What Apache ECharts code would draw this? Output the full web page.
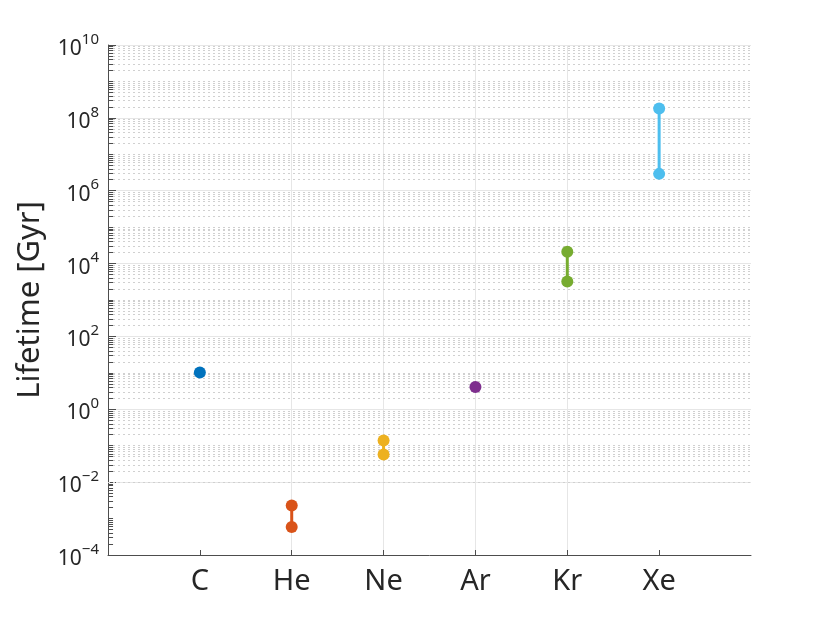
<!DOCTYPE html>
<html><head><meta charset="utf-8">
<script src="https://cdn.jsdelivr.net/npm/echarts@6/dist/echarts.min.js"></script>
<style>html,body{margin:0;padding:0;background:#fff}#c{width:830px;height:623px}</style>
</head><body><div id="c"></div>
<script>
const categories = ['C','He','Ne','Ar','Kr','Xe'];
const lowerValues = [10.3, 5.9e-4, 0.057, 4.1, 3.2e3, 2.9e6];
const upperValues = [null, 2.3e-3, 0.14, null, 2.1e4, 1.8e8];
const colors = ['#0072BD','#D95319','#EDB120','#7E2F8E','#77AC30','#4DBEEE'];
const yMin = 1e-4, yMax = 1e10;
const font = 'Noto Sans';

// minor grid positions (k * 10^n), plus odd decades (major ticks are every 2 decades)
const minorVals = [];
for (let n = -4; n < 10; n++) {
  if (n % 2 !== 0) minorVals.push(Math.pow(10, n));
  for (let k = 2; k <= 9; k++) minorVals.push(k * Math.pow(10, n));
}
const minorTickVals = [];
for (let n = -4; n < 10; n++) {
  for (let k = 1; k <= 9; k++) { if (!(k === 1 && n % 2 === 0)) minorTickVals.push(k * Math.pow(10, n)); }
}

const series = [];
series.push({
  type: 'scatter', data: [], z: 1, silent: true,
  markLine: {
    silent: true, symbol: ['none','none'], animation: false,
    label: {show: false},
    lineStyle: {type: [2,3], color: '#d0d0d0', width: 1},
    emphasis: {disabled: true},
    data: minorVals.map(v => ({yAxis: v}))
  }
});
series.push({
  type: 'scatter', data: [], z: 2, silent: true,
  markLine: {
    silent: true, symbol: ['none','none'], animation: false,
    label: {show: false},
    lineStyle: {type: 'solid', color: '#4d4d4d', width: 1},
    emphasis: {disabled: true},
    data: minorTickVals.map(v => [{coord: [0, v]}, {coord: [0.055, v]}])
  }
});
categories.forEach((c, i) => {
  const pts = [[i + 1, lowerValues[i]]];
  if (upperValues[i] != null) pts.push([i + 1, upperValues[i]]);
  series.push({
    name: c, type: 'line', data: pts, z: 5,
    symbol: 'circle', symbolSize: 12,
    lineStyle: {color: colors[i], width: 3},
    itemStyle: {color: colors[i]},
    animation: false
  });
});

const chart = echarts.init(document.getElementById('c'));
chart.setOption({
  animation: false,
  backgroundColor: '#fff',
  grid: {left: 108, right: 79, top: 45, bottom: 68, containLabel: false},
  xAxis: {
    type: 'value', min: 0, max: 7, interval: 1,
    axisLine: {show: true, lineStyle: {color: '#4d4d4d', width: 1}},
    axisTick: {show: true, inside: true, length: 5, lineStyle: {color: '#4d4d4d'},
      customValues: [1, 2, 3, 4, 5, 6]},
    axisLabel: {
      margin: 12, fontSize: 29, color: '#262626', fontFamily: font,
      formatter: v => categories[v - 1] || ''
    },
    splitLine: {show: true, showMinLine: false, showMaxLine: false, lineStyle: {color: '#e6e6e6', width: 1}}
  },
  yAxis: {
    type: 'log', logBase: 100, min: yMin, max: yMax,
    name: 'Lifetime [Gyr]', nameLocation: 'middle', nameGap: 62,
    nameTextStyle: {fontSize: 31, color: '#262626', fontFamily: font},
    axisLine: {show: true, lineStyle: {color: '#4d4d4d', width: 1}},
    axisTick: {show: true, inside: true, length: 8, lineStyle: {color: '#4d4d4d'}},
    axisLabel: {
      margin: 9, color: '#262626', fontFamily: font,
      formatter: v => {
        const e = Math.round(Math.log10(v));
        return '{b|10}{s|' + (e < 0 ? '\u2212' + (-e) : e) + '}';
      },
      rich: {
        b: {fontSize: 21, fontFamily: font, color: '#262626', padding: [8, 0, 0, 0]},
        s: {fontSize: 15, fontFamily: font, color: '#262626', padding: [0, 0, 11, 0]}
      }
    },
    splitLine: {show: true, lineStyle: {color: '#e6e6e6', width: 1}}
  },
  series: series
});
</script></body></html>
